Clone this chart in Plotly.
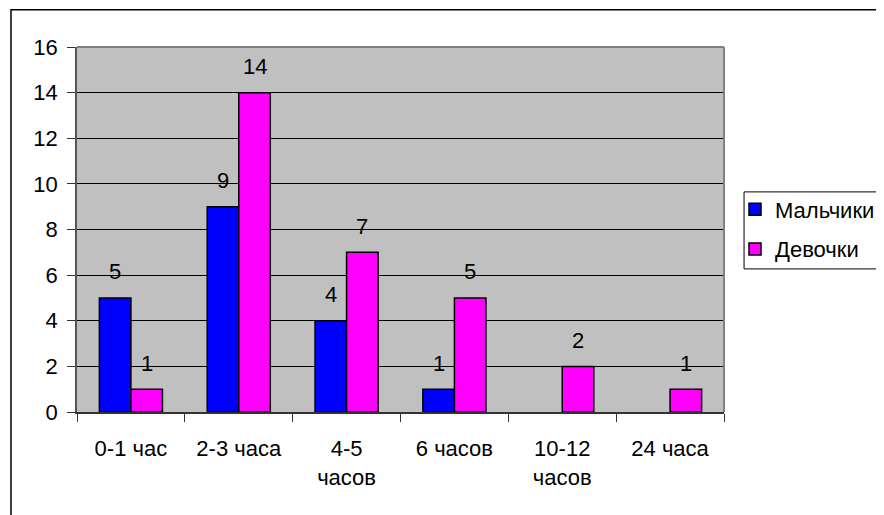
import plotly.graph_objects as go

categories = ["0-1 час", "2-3 часа", "4-5 часов", "6 часов", "10-12 часов", "24 часа"]
tick_labels = ["0-1 час", "2-3 часа", "4-5<br>часов", "6 часов", "10-12<br>часов", "24 часа"]
boys = [5, 9, 4, 1, None, None]
girls = [1, 14, 7, 5, 2, 1]
y_ticks = [0, 2, 4, 6, 8, 10, 12, 14, 16]

FONT = "Arial, Liberation Sans, sans-serif"
FS = 22

fig = go.Figure()
fig.add_trace(go.Bar(name="Мальчики", x=categories, y=boys,
                     marker=dict(color="#0000FF", line=dict(color="black", width=1.5)),
                     legendgroup="a"))
fig.add_trace(go.Bar(name="Девочки", x=categories, y=girls,
                     marker=dict(color="#FF00FF", line=dict(color="black", width=1.5)),
                     legendgroup="b"))

annotations = []
for vals, shift in ((boys, -15.75), (girls, 15.75)):
    for c, v in zip(categories, vals):
        if v is None:
            continue
        annotations.append(dict(x=c, y=v, xref="x", yref="y", text=str(v),
                                showarrow=False, xshift=shift, yshift=26,
                                font=dict(family=FONT, size=FS, color="black")))

shapes = [
    # outer chart border (left & top visible)
    dict(type="rect", xref="paper", yref="paper", x0=-0.102, x1=1.3, y0=-0.35, y1=1.102,
         line=dict(color="black", width=1.5), layer="below"),
    # plot area border top & right
    dict(type="line", xref="paper", yref="paper", x0=0, x1=1, y0=1, y1=1,
         line=dict(color="#808080", width=2)),
    dict(type="line", xref="paper", yref="paper", x0=1, x1=1, y0=0, y1=1,
         line=dict(color="#808080", width=2)),
    # legend frame
    dict(type="rect", xref="paper", yref="paper", x0=1.031, x1=1.26, y0=0.392, y1=0.603,
         line=dict(color="black", width=1), fillcolor="white", layer="below"),
]

fig.update_layout(
    width=884, height=507,
    margin=dict(l=69, r=168, t=39, b=103, autoexpand=False),
    paper_bgcolor="white", plot_bgcolor="#C0C0C0",
    font=dict(family=FONT, size=FS, color="black"),
    barmode="group", bargap=0.415, bargroupgap=0,
    showlegend=True,
    legend=dict(x=1.017, xanchor="left", y=0.5, yanchor="middle",
                borderwidth=0, bgcolor="rgba(0,0,0,0)",
                font=dict(family=FONT, size=FS), tracegroupgap=8,
                itemwidth=30),
    annotations=annotations, shapes=shapes,
    xaxis=dict(type="category", tickvals=categories, ticktext=tick_labels,
               tickson="boundaries", ticks="outside", ticklen=8, tickcolor="#333",
               showline=True, linecolor="#333", linewidth=1.5, showgrid=False,
               ticklabelstandoff=16, automargin=False,
               tickfont=dict(family=FONT, size=FS), fixedrange=True),
    yaxis=dict(range=[0, 16], tickvals=y_ticks, ticks="outside", ticklen=8, tickcolor="#333",
               showline=True, linecolor="#555", linewidth=1.5,
               showgrid=True, gridcolor="black", gridwidth=1, zeroline=False,
               ticklabelstandoff=5, automargin=False,
               tickfont=dict(family=FONT, size=FS), fixedrange=True),
)

fig.write_html("out.html")
